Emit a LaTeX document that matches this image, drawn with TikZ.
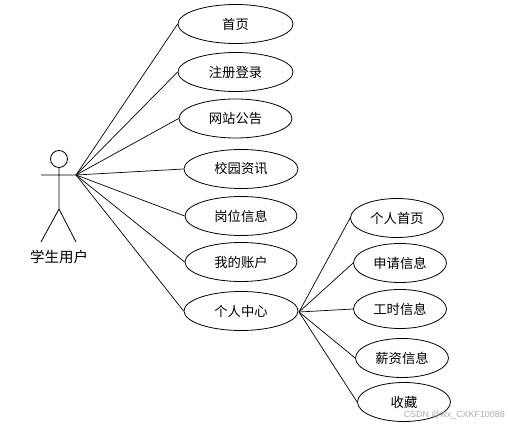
\documentclass[tikz,border=0pt]{standalone}
\usepackage{fontspec}
\setmainfont{Noto Sans CJK SC}
\newfontfamily\wmfont{Liberation Sans}
\usetikzlibrary{shapes.geometric}
\tikzset{uc/.style={draw,ellipse,minimum width=#1,minimum height=39pt,inner sep=0pt,font=\fontsize{13.3}{15}\selectfont,line width=.8pt},uc/.default=114pt,
lnk/.style={line width=.7pt},ln/.style={line width=.8pt}}
\begin{document}
\begin{tikzpicture}[x=1pt,y=-1pt]
\useasboundingbox (0,0) rectangle (508,427);
\node[uc=115pt] (a) at (235.5,24) {首页};
\node[uc=115pt] (b) at (235.5,72) {注册登录};
\node[uc=113pt] (c) at (235.5,118.5) {网站公告};
\node[uc] (d) at (241,169) {校园资讯};
\node[uc=112pt] (e) at (241,216) {岗位信息};
\node[uc=112pt] (f) at (241,262) {我的账户};
\node[uc] (g) at (241,311) {个人中心};
\node[uc=93pt] (h) at (397,218) {个人首页};
\node[uc=93pt] (i) at (400,263) {申请信息};
\node[uc=93pt] (j) at (400,309) {工时信息};
\node[uc=93pt] (k) at (402,358) {薪资信息};
\node[uc=93pt] (l) at (404,402) {收藏};
\coordinate (s) at (76,175);
\coordinate (p) at (299,312);
\foreach \n in {a,b,c,d,e,f,g} \draw[lnk] (s) -- (\n.west);
\foreach \n in {h,i,j,k,l} \draw[lnk] (p) -- (\n.west);
\node[draw,circle,minimum size=17pt,inner sep=0pt,ln] (hd) at (59,159) {};
\coordinate (hip) at (59,209);
\coordinate (la) at (41,175);
\coordinate (ra) at (76,175);
\coordinate (lf) at (41,242);
\coordinate (rf) at (76,242);
\draw[ln] (hd) -- (hip) (la) -- (ra) (hip) -- (lf) (hip) -- (rf);
\node[font=\fontsize{14.5}{16}\selectfont] (t) at (59,257) {学生用户};
\node[font=\wmfont\fontsize{8.9}{11}\selectfont,text=black!32,anchor=east,inner sep=0pt] (w) at (505,415) {CSDN @wx\_CXKF10088};
\end{tikzpicture}
\end{document}
